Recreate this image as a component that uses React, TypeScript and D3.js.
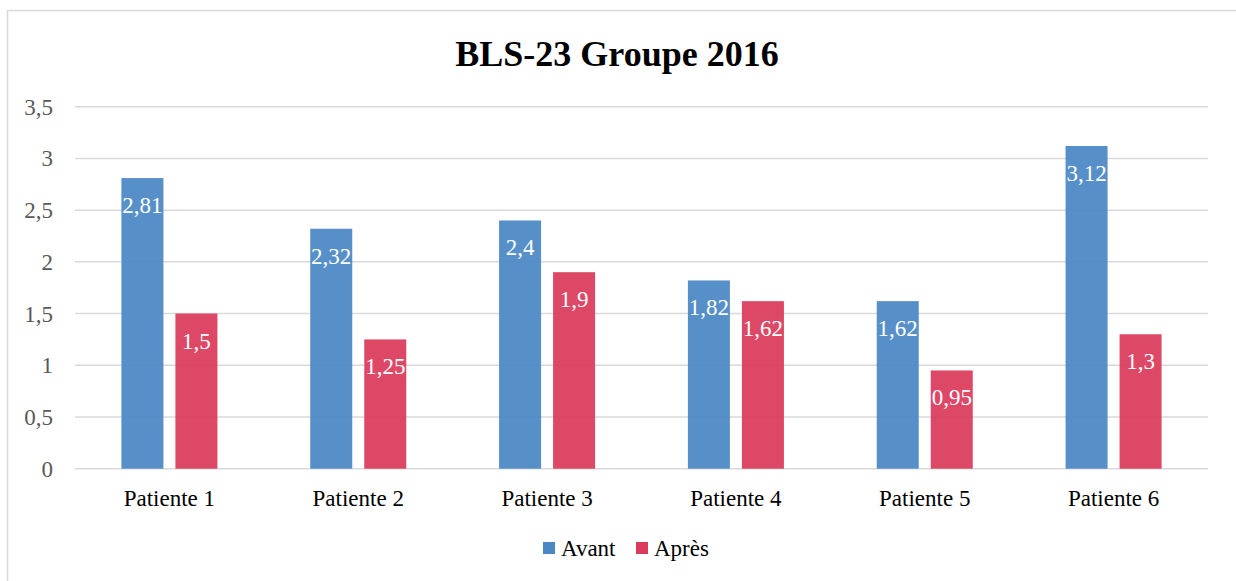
import React from "react";
import * as d3 from "d3";

const categories = ["Patiente 1", "Patiente 2", "Patiente 3", "Patiente 4", "Patiente 5", "Patiente 6"];
const avant = [2.81, 2.32, 2.4, 1.82, 1.62, 3.12];
const apres = [1.5, 1.25, 1.9, 1.62, 0.95, 1.3];
const seriesNames = ["Avant", "Après"];
const yTicks = [0, 0.5, 1, 1.5, 2, 2.5, 3, 3.5];
const title = "BLS-23 Groupe 2016";

const W = 1236;
const H = 581;
const FONT = "'Liberation Serif', 'Times New Roman', serif";
const colors = ["#4a88c4", "#dc3a5b"];

const fmt = (v: number) => String(v).replace(".", ",");

export default function App() {
  const x0 = d3.scaleBand<string>().domain(categories).range([75, 1208]).paddingInner(0).paddingOuter(0);
  const y = d3.scaleLinear().domain([0, 3.5]).range([468.7, 106.7]);
  const bw = x0.bandwidth();
  const barW = bw * 0.2225;
  const gap = 12;
  const x1 = d3.scaleOrdinal<string, number>().domain(seriesNames).range([-gap / 2 - barW, gap / 2]);
  const series = [avant, apres];

  return (
    <svg width={W} height={H} style={{ position: "absolute", left: 0, top: 0, background: "#fff" }}>
      <rect x={7.5} y={10.5} width={W + 10} height={H + 10} fill="#fff" stroke="#d9d9d9" strokeWidth={1.5} />
      <text x={617} y={66} textAnchor="middle" fontFamily={FONT} fontWeight="bold" fontSize={36} fill="#000">
        {title}
      </text>
      {yTicks.map((t) => (
        <g key={t}>
          <line x1={75} x2={1208} y1={y(t)} y2={y(t)} stroke="#d9d9d9" strokeWidth={1.5} />
          <text x={53} y={y(t) + 8} textAnchor="end" fontFamily={FONT} fontSize={23} fill="#595959">
            {fmt(t)}
          </text>
        </g>
      ))}
      {categories.map((c, i) => (
        <g key={c}>
          {series.map((vals, s) => {
            const bx = (x0(c) as number) + bw / 2 + (x1(seriesNames[s]) as number);
            const by = y(vals[i]);
            return (
              <g key={s}>
                <rect x={bx} y={by} width={barW} height={y(0) - by} fill={colors[s]} opacity={0.93} />
                <text x={bx + barW / 2} y={by + 35} textAnchor="middle" fontFamily={FONT} fontSize={23} fill="#fff">
                  {fmt(vals[i])}
                </text>
              </g>
            );
          })}
          <text x={(x0(c) as number) + bw / 2} y={506} textAnchor="middle" fontFamily={FONT} fontSize={23} fill="#000">
            {c}
          </text>
        </g>
      ))}
      {seriesNames.map((n, s) => {
        const lx = [543, 636][s];
        return (
          <g key={n}>
            <rect x={lx} y={542} width={12} height={12} fill={colors[s]} />
            <text x={lx + 18} y={556} fontFamily={FONT} fontSize={23} fill="#000">
              {n}
            </text>
          </g>
        );
      })}
    </svg>
  );
}
